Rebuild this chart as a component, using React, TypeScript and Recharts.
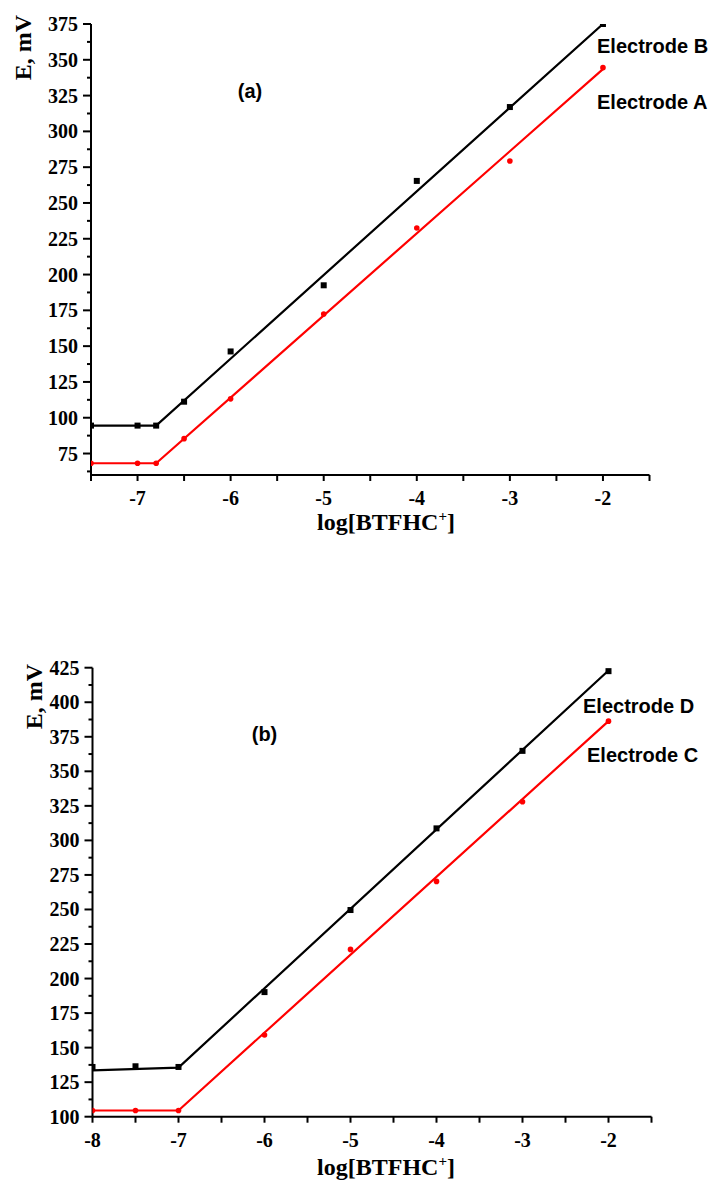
import React from 'react';
import { LineChart, Line, XAxis, YAxis } from 'recharts';

// ---------- Panel (a) ----------
const xDomainA: [number, number] = [-7.5, -1.5];
const yDomainA: [number, number] = [60, 375];
const xMajorA = [-7, -6, -5, -4, -3, -2];
const xAllTicksA = [-7.5, -7, -6.5, -6, -5.5, -5, -4.5, -4, -3.5, -3, -2.5, -2, -1.5];
const yMajorA = [75, 100, 125, 150, 175, 200, 225, 250, 275, 300, 325, 350, 375];
const yAllTicksA = [62.5, 75, 87.5, 100, 112.5, 125, 137.5, 150, 162.5, 175, 187.5, 200, 212.5, 225, 237.5, 250, 262.5, 275, 287.5, 300, 312.5, 325, 337.5, 350, 362.5, 375];

const logConcA = [-7.5, -7, -6.8, -6.5, -6, -5, -4, -3, -2];
const electrodeB = [94.5, 94.5, 94.5, 111.2, 146.3, 192.5, 265.4, 317, 375];
const electrodeA = [68.2, 68.2, 68.2, 85.4, 113.2, 172.5, 232.5, 279.3, 344.5];
const fitXA = [-7.5, -6.8, -2];
const fitB = [94.5, 94.5, 375];
const fitA = [68.2, 68.2, 343.5];

// ---------- Panel (b) ----------
const xDomainB: [number, number] = [-8, -1.5];
const yDomainB: [number, number] = [100, 425];
const xMajorB = [-8, -7, -6, -5, -4, -3, -2];
const xAllTicksB = [-8, -7.5, -7, -6.5, -6, -5.5, -5, -4.5, -4, -3.5, -3, -2.5, -2, -1.5];
const yMajorB = [100, 125, 150, 175, 200, 225, 250, 275, 300, 325, 350, 375, 400, 425];
const yAllTicksB = [100, 112.5, 125, 137.5, 150, 162.5, 175, 187.5, 200, 212.5, 225, 237.5, 250, 262.5, 275, 287.5, 300, 312.5, 325, 337.5, 350, 362.5, 375, 387.5, 400, 412.5, 425];

const logConcB = [-8, -7.5, -7, -6, -5, -4, -3, -2];
const electrodeD = [136, 136.5, 136, 190.2, 249.6, 308.7, 364.8, 422.5];
const electrodeC = [104.5, 104.5, 104.5, 159.1, 221.1, 270.3, 328, 386.3];
const fitXB = [-8, -7, -2];
const fitD = [133.5, 135.5, 423];
const fitC = [104.5, 104.5, 386.3];

const toPts = (xs: number[], ys: number[]) => xs.map((x, i) => ({ x, y: ys[i] }));

const serif = '"Liberation Serif", "Times New Roman", serif';
const sans = '"Liberation Sans", Arial, sans-serif';

const makeYTick = (majors: number[]) => (p: any) => {
  const { x, y, payload } = p;
  const major = majors.includes(payload.value);
  return (
    <g>
      <line x1={x - (major ? 8 : 4)} x2={x} y1={y} y2={y} stroke="#000" strokeWidth={2} />
      {major && (
        <text x={x - 13} y={y} dy="0.35em" textAnchor="end" fontFamily={serif} fontWeight="bold" fontSize={20} fill="#000">
          {payload.value}
        </text>
      )}
    </g>
  );
};

const makeXTick = (majors: number[]) => (p: any) => {
  const { x, y, payload } = p;
  const major = majors.includes(payload.value);
  return (
    <g>
      <line x1={x} x2={x} y1={y} y2={y + 6} stroke="#000" strokeWidth={2} />
      {major && (
        <text x={x} y={y + 23} dy="0.35em" textAnchor="middle" fontFamily={serif} fontWeight="bold" fontSize={20} fill="#000">
          {payload.value}
        </text>
      )}
    </g>
  );
};

const squareDot = (key: string) => (p: any) => (
  <rect key={`${key}-${p.index}`} x={p.cx - 3} y={p.cy - 3} width={6} height={6} fill="#000" />
);
const circleDot = (key: string) => (p: any) => (
  <circle key={`${key}-${p.index}`} cx={p.cx} cy={p.cy} r={2.8} fill="#ff0000" />
);

type PanelProps = {
  width: number;
  height: number;
  margin: { top: number; right: number; bottom: number; left: number };
  xDomain: [number, number];
  yDomain: [number, number];
  xTicks: number[];
  yTicks: number[];
  xMajor: number[];
  yMajor: number[];
  blackPts: { x: number; y: number }[];
  redPts: { x: number; y: number }[];
  blackFit: { x: number; y: number }[];
  redFit: { x: number; y: number }[];
  id: string;
};

const Panel = (pr: PanelProps) => (
  <LineChart width={pr.width} height={pr.height} margin={pr.margin}>
    <XAxis
      type="number"
      dataKey="x"
      domain={pr.xDomain}
      ticks={pr.xTicks}
      interval={0}
      allowDataOverflow
      height={30}
      tickSize={0}
      tickMargin={0}
      tickLine={false}
      axisLine={{ stroke: '#000', strokeWidth: 2 }}
      tick={makeXTick(pr.xMajor)}
    />
    <YAxis
      type="number"
      domain={pr.yDomain}
      ticks={pr.yTicks}
      interval={0}
      allowDataOverflow
      width={60}
      tickSize={0}
      tickMargin={0}
      tickLine={false}
      axisLine={{ stroke: '#000', strokeWidth: 2 }}
      tick={makeYTick(pr.yMajor)}
    />
    <Line data={pr.blackFit} dataKey="y" stroke="#000" strokeWidth={2.2} dot={false} activeDot={false} isAnimationActive={false} type="linear" />
    <Line data={pr.redFit} dataKey="y" stroke="#ff0000" strokeWidth={2.2} dot={false} activeDot={false} isAnimationActive={false} type="linear" />
    <Line data={pr.blackPts} dataKey="y" stroke="none" dot={squareDot(pr.id + 'k')} activeDot={false} isAnimationActive={false} />
    <Line data={pr.redPts} dataKey="y" stroke="none" dot={circleDot(pr.id + 'r')} activeDot={false} isAnimationActive={false} />
  </LineChart>
);

const XTitle = ({ x, y }: { x: number; y: number }) => (
  <text x={x} y={y} textAnchor="middle" fontFamily={serif} fontWeight="bold" fontSize={24} fill="#000">
    log[BTFHC
    <tspan dy={-9} fontSize={15}>+</tspan>
    <tspan dy={9}>]</tspan>
  </text>
);

const YTitle = ({ x, y }: { x: number; y: number }) => (
  <text x={x} y={y} textAnchor="middle" fontFamily={serif} fontWeight="bold" fontSize={24} fill="#000" transform={`rotate(-90 ${x} ${y})`}>
    E, mV
  </text>
);

const Ann = ({ x, y, t, anchor = 'start' }: { x: number; y: number; t: string; anchor?: string }) => (
  <text x={x} y={y} textAnchor={anchor as any} fontFamily={sans} fontWeight="bold" fontSize={20} fill="#000">
    {t}
  </text>
);

export default function App() {
  return (
    <div style={{ position: 'absolute', left: 0, top: 0, width: 716, height: 1182, background: '#fff', overflow: 'hidden' }}>
      <div style={{ position: 'absolute', left: 0, top: 0 }}>
        <Panel
          id="a"
          width={716}
          height={520}
          margin={{ top: 24, right: 66.5, bottom: 15, left: 31 }}
          xDomain={xDomainA}
          yDomain={yDomainA}
          xTicks={xAllTicksA}
          yTicks={yAllTicksA}
          xMajor={xMajorA}
          yMajor={yMajorA}
          blackPts={toPts(logConcA, electrodeB)}
          redPts={toPts(logConcA, electrodeA)}
          blackFit={toPts(fitXA, fitB)}
          redFit={toPts(fitXA, fitA)}
        />
      </div>
      <div style={{ position: 'absolute', left: 0, top: 640 }}>
        <Panel
          id="b"
          width={716}
          height={540}
          margin={{ top: 27.7, right: 64.5, bottom: 33.3, left: 32.5 }}
          xDomain={xDomainB}
          yDomain={yDomainB}
          xTicks={xAllTicksB}
          yTicks={yAllTicksB}
          xMajor={xMajorB}
          yMajor={yMajorB}
          blackPts={toPts(logConcB, electrodeD)}
          redPts={toPts(logConcB, electrodeC)}
          blackFit={toPts(fitXB, fitD)}
          redFit={toPts(fitXB, fitC)}
        />
      </div>
      <svg width={716} height={1182} style={{ position: 'absolute', left: 0, top: 0, pointerEvents: 'none' }}>
        <YTitle x={31} y={47.5} />
        <XTitle x={386} y={530} />
        <Ann x={250} y={98} t="(a)" anchor="middle" />
        <Ann x={597} y={53} t="Electrode B" />
        <Ann x={597} y={109} t="Electrode A" />

        <YTitle x={42} y={696.5} />
        <XTitle x={386} y={1175} />
        <Ann x={264.5} y={741} t="(b)" anchor="middle" />
        <Ann x={583} y={713} t="Electrode D" />
        <Ann x={587} y={762} t="Electrode C" />
      </svg>
    </div>
  );
}
